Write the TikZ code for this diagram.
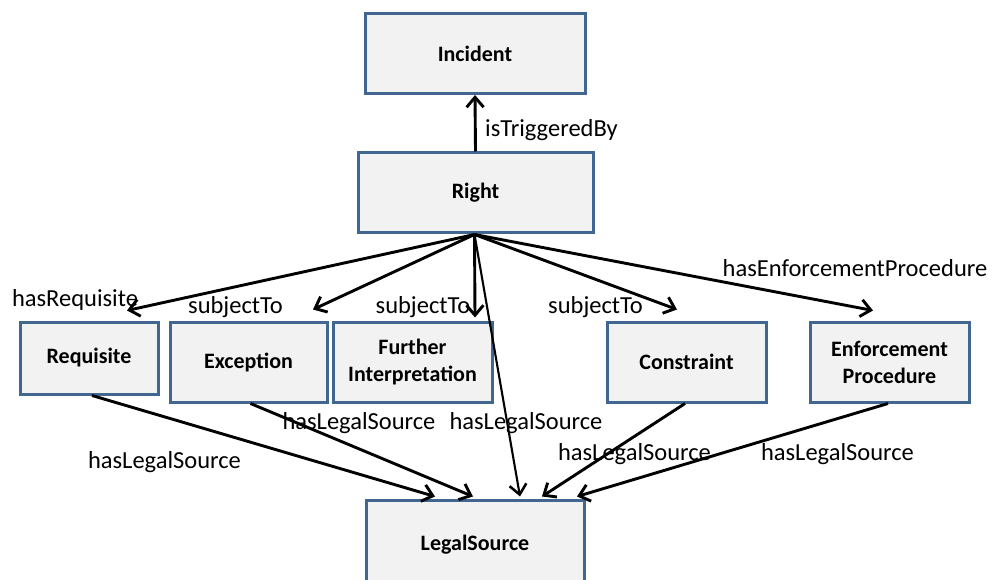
\documentclass[tikz,border=0pt]{standalone}
\usepackage{fontspec}
\setmainfont{Carlito}
\usetikzlibrary{arrows.meta,calc}
\definecolor{boxline}{HTML}{41668F}
\definecolor{boxfill}{HTML}{F2F2F2}
\tikzset{
  concept/.style={draw=boxline, fill=boxfill, line width=3pt, inner sep=0pt,
    align=center, font=\fontsize{22}{27}\selectfont\bfseries},
  rel/.style={line width=2.9pt, -{Straight Barb[length=10pt,width=17pt,line width=2.9pt]}},
  thinrel/.style={line width=2.1pt, -{Straight Barb[length=10pt,width=17pt,line width=2.5pt]}},
  lbl/.style={inner sep=0pt, font=\fontsize{24.5}{28}\selectfont}
}
\begin{document}
\begin{tikzpicture}[x=1pt,y=1pt]
\useasboundingbox (0,0) rectangle (995,579);
\clip (0,0) rectangle (995,579);

% concept boxes
\node[concept, minimum width=220, minimum height=80] (incident) at (475,525.5) {Incident};
\node[concept, minimum width=235, minimum height=80] (right) at (475.5,386) {Right};
\node[concept, minimum width=138, minimum height=72] (req) at (89,221) {Requisite};
\node[concept, minimum width=157, minimum height=80] (exc) at (248.5,217) {Exception};
\node[concept, minimum width=159, minimum height=80] (further) at (412.5,217) {Further\\Interpretation};
\node[concept, minimum width=159, minimum height=80] (constr) at (686.5,217) {Constraint};
\node[concept, minimum width=159, minimum height=80] (enf) at (889.5,217) {Enforcement\\Procedure};
\node[concept, minimum width=218, minimum height=90] (legal) at (475,34) {LegalSource};

% relations leaving Right
\draw[rel] (right.north) -- (incident.south);
\draw[rel] ($(right.south)+(-1,0)$) -- ($(req.north)+(38,10)$);
\draw[rel] ($(right.south)+(-1,0)$) -- ($(exc.north)+(64.5,11)$);
\draw[rel] ($(right.south)+(-1,0)$) -- ($(further.north)+(62.5,3)$);
\draw[rel] ($(right.south)+(-1,0)$) -- ($(constr.north)+(-9.5,11)$);
\draw[rel] ($(right.south)+(-1,0)$) -- ($(enf.north)+(-16.5,10)$);

% hasLegalSource relations
\draw[rel] ($(req.south)+(3,0)$) -- ($(legal.north)+(-40,2)$);
\draw[rel] ($(exc.south)+(2,0)$) -- ($(legal.north)+(-2,2)$);
\draw[thinrel] ($(right.south)+(-1,0)$) -- ($(legal.north)+(45,2)$);
\draw[rel] ($(constr.south)+(-1.5,0)$) -- ($(legal.north)+(67,2)$);
\draw[rel] ($(enf.south)+(-1.5,0)$) -- ($(legal.north)+(102,2)$);

% relation names
\node[lbl, anchor=west] (lTrig) at (485,449) {isTriggeredBy};
\node[lbl] (lReq) at (75,279) {hasRequisite};
\node[lbl] (lExc) at (235.5,272) {subjectTo};
\node[lbl] (lFur) at (423,272) {subjectTo};
\node[lbl] (lCon) at (595.5,272) {subjectTo};
\node[lbl] (lEnf) at (855,311) {hasEnforcementProcedure};
\node[lbl] (sReq) at (164.5,117) {hasLegalSource};
\node[lbl] (sExc) at (359,156) {hasLegalSource};
\node[lbl] (sRight) at (526,156) {hasLegalSource};
\node[lbl] (sCon) at (634.5,125) {hasLegalSource};
\node[lbl] (sEnf) at (837.5,125) {hasLegalSource};
\end{tikzpicture}
\end{document}
